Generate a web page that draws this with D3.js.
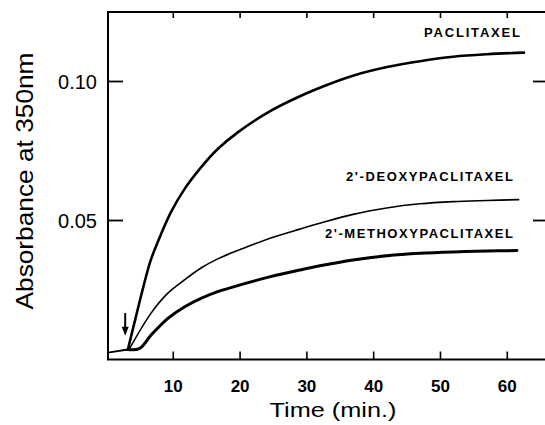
<!DOCTYPE html>
<html>
<head>
<meta charset="utf-8">
<script src="https://cdn.jsdelivr.net/npm/d3@7"></script>
<style>
  html, body { margin: 0; padding: 0; background: #fff; }
  svg { display: block; font-family: "Liberation Sans", Arial, Helvetica, sans-serif; }
</style>
</head>
<body>
<svg id="chart" width="545" height="425"></svg>
<script>
// ---- data (time in min, absorbance at 350 nm) ----
const baselineTime = [0.45, 3.2];
const baselineAbs  = [0.0026, 0.0036];

const paclitaxelTime = [3.2, 4.65, 5.65, 6.65, 8.15, 9.65, 11.65, 14.15, 16.65, 19.7, 24.7, 29.7, 32.7, 36.9, 42, 46.9, 51.9, 57, 62.5];
const paclitaxelAbs  = [0.0036, 0.0178, 0.0274, 0.0359, 0.045, 0.053, 0.0612, 0.0691, 0.0757, 0.0818, 0.0896, 0.0955, 0.0985, 0.1021, 0.1052, 0.1073, 0.1089, 0.1098, 0.1104];

const deoxyTime = [3.4, 6.65, 9.15, 11.65, 14.15, 16.65, 20.4, 24.7, 28.95, 31.95, 36.9, 41.95, 46.9, 51.9, 56.95, 61.7];
const deoxyAbs  = [0.0037, 0.0166, 0.0238, 0.0286, 0.0329, 0.0362, 0.0399, 0.0438, 0.0469, 0.049, 0.0522, 0.0545, 0.056, 0.0568, 0.0572, 0.0575];

const methoxyTime = [3.2, 4.9, 6.65, 9.15, 11.65, 14.15, 16.65, 20.4, 24.7, 28.95, 31.95, 36.9, 41.95, 46.9, 51.9, 56.95, 61.45];
const methoxyAbs  = [0.0036, 0.0039, 0.0087, 0.0147, 0.0189, 0.022, 0.0244, 0.0271, 0.0299, 0.0322, 0.0337, 0.0358, 0.0373, 0.0382, 0.0387, 0.039, 0.0392];

const seriesNames = ["PACLITAXEL", "2'-DEOXYPACLITAXEL", "2'-METHOXYPACLITAXEL"];
const xTicks = [10, 20, 30, 40, 50, 60];
const yTicks = [0.05, 0.10];
const yTickLabels = ["0.05", "0.10"];
const arrowTime = 2.8;
const arrowAbs = [0.0167, 0.0085];

// ---- layout ----
const svg = d3.select("#chart");
const x = d3.scaleLinear().domain([0, 65.5]).range([106.5, 544]);
const y = d3.scaleLinear().domain([0, 0.125]).range([359.5, 12]);
const fLeft = 108, fRight = 545, fTop = 12, fBottom = 359.5;

const zip = (t, v) => t.map((d, i) => [d, v[i]]);
const line = d3.line().x(d => x(d[0])).y(d => y(d[1])).curve(d3.curveCatmullRom.alpha(0.5));

// frame
const frame = svg.append("g").attr("stroke", "#000").attr("fill", "none");
frame.append("path").attr("d", `M${fRight},${fTop}H${fLeft}V${fBottom}H${fRight}`).attr("stroke-width", 2);

// bottom ticks (inward) and top ticks (inward)
frame.selectAll(".bt").data(xTicks).join("line")
  .attr("x1", d => x(d)).attr("x2", d => x(d))
  .attr("y1", fBottom).attr("y2", fBottom - 8).attr("stroke-width", 1.6);
frame.selectAll(".tt").data(xTicks).join("line")
  .attr("x1", d => x(d)).attr("x2", d => x(d))
  .attr("y1", fTop).attr("y2", fTop + 6).attr("stroke-width", 1.6);
// left & right ticks
frame.selectAll(".lt").data(yTicks).join("line")
  .attr("x1", fLeft).attr("x2", fLeft + 15)
  .attr("y1", d => y(d)).attr("y2", d => y(d)).attr("stroke-width", 1.8);
frame.selectAll(".rt").data(yTicks).join("line")
  .attr("x1", fRight - 12).attr("x2", fRight)
  .attr("y1", d => y(d)).attr("y2", d => y(d)).attr("stroke-width", 1.8);

// tick labels
svg.append("g").selectAll("text").data(xTicks).join("text")
  .attr("x", d => x(d)).attr("y", 392)
  .attr("text-anchor", "middle").attr("font-size", 17).attr("font-weight", "bold")
  .text(d => d);
svg.append("g").selectAll("text").data(yTicks).join("text")
  .attr("x", 97).attr("y", d => y(d)).attr("dy", "0.36em")
  .attr("text-anchor", "end").attr("font-size", 20)
  .text((d, i) => yTickLabels[i]);

// axis titles
svg.append("text").attr("x", 333).attr("y", 417)
  .attr("text-anchor", "middle").attr("font-size", 21)
  .attr("textLength", 127).attr("lengthAdjust", "spacingAndGlyphs")
  .text("Time (min.)");
svg.append("text").attr("transform", "translate(33,181) rotate(-90)")
  .attr("text-anchor", "middle").attr("font-size", 24)
  .attr("textLength", 257).attr("lengthAdjust", "spacingAndGlyphs")
  .text("Absorbance at 350nm");

// curves
const curves = svg.append("g").attr("fill", "none").attr("stroke", "#000")
  .attr("stroke-linecap", "round").attr("stroke-linejoin", "round");
curves.append("path").attr("d", line(zip(baselineTime, baselineAbs))).attr("stroke-width", 1.8);
curves.append("path").attr("d", line(zip(paclitaxelTime, paclitaxelAbs))).attr("stroke-width", 2.6);
curves.append("path").attr("d", line(zip(deoxyTime, deoxyAbs))).attr("stroke-width", 1.6);
curves.append("path").attr("d", line(zip(methoxyTime, methoxyAbs))).attr("stroke-width", 3);

// arrow
const ax = x(arrowTime);
svg.append("line").attr("x1", ax).attr("x2", ax)
  .attr("y1", y(arrowAbs[0])).attr("y2", y(arrowAbs[1]) - 6)
  .attr("stroke", "#000").attr("stroke-width", 2);
svg.append("path")
  .attr("d", `M${ax - 3.5},${y(arrowAbs[1]) - 9}L${ax + 3.5},${y(arrowAbs[1]) - 9}L${ax},${y(arrowAbs[1])}Z`)
  .attr("fill", "#000");

// series labels
const labelPos = [
  {x: 424, y: 36.7, w: 96},
  {x: 346, y: 180.7, w: 167},
  {x: 325, y: 238.3, w: 188}
];
svg.append("g").selectAll("text").data(seriesNames).join("text")
  .attr("x", (d, i) => labelPos[i].x).attr("y", (d, i) => labelPos[i].y)
  .attr("font-size", 13).attr("font-weight", "bold")
  .attr("textLength", (d, i) => labelPos[i].w).attr("lengthAdjust", "spacing")
  .text(d => d);
</script>
</body>
</html>
